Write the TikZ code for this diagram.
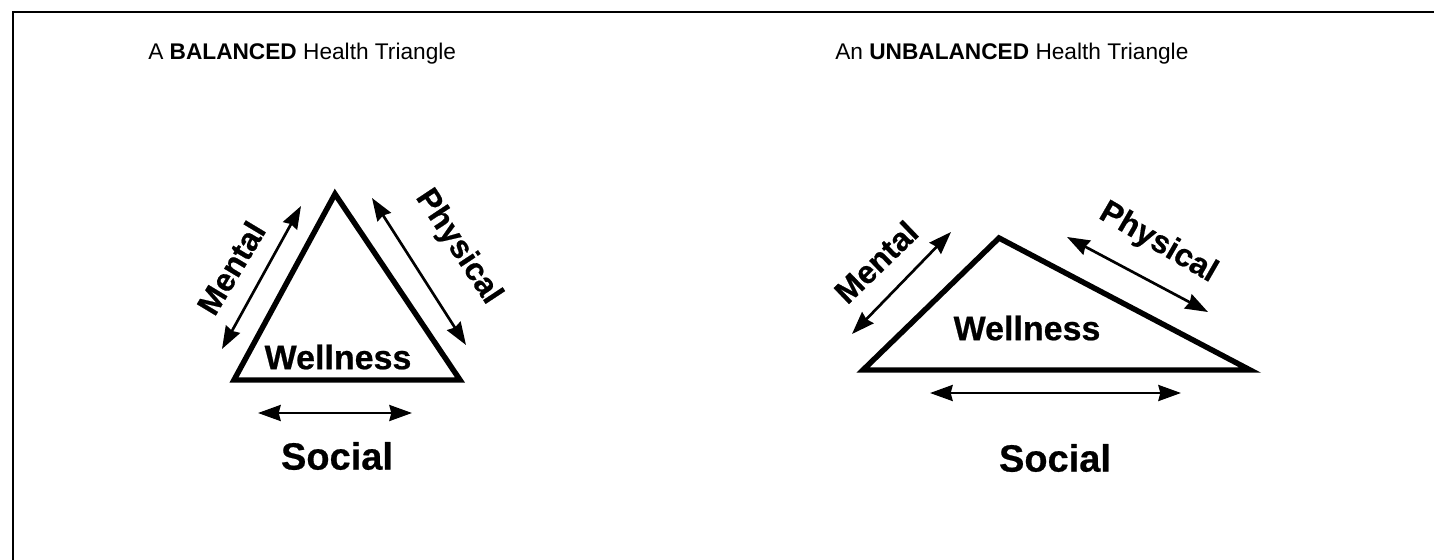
\documentclass[tikz,border=0pt]{standalone}
\usepackage{fontspec}
\setmainfont{Liberation Sans}
\newfontfamily\heavy[FakeBold=0.6]{Liberation Sans Bold}
\usetikzlibrary{arrows.meta}
\begin{document}
\begin{tikzpicture}[x=0.75pt,y=-0.75pt,
  tri/.style={line width=4.1pt, line join=miter},
  tip/.style={Stealth[length=17pt,width=12pt,inset=1.5pt]},
  dbl/.style={line width=2pt, {Stealth[length=17pt,width=12pt,inset=1.5pt]}-{Stealth[length=17pt,width=12pt,inset=1.5pt]}},
  ttl/.style={font=\fontsize{17}{20}\selectfont, inner sep=0pt, anchor=base west},
  lbl/.style={font=\fontsize{24}{28}\heavy, inner sep=0pt},
  wel/.style={font=\fontsize{25.5}{28}\heavy, inner sep=0pt},
  soc/.style={font=\fontsize{28.5}{30}\heavy, inner sep=0pt}]
\useasboundingbox (0,0) rectangle (1434,560);
\fill[white] (0,0) rectangle (1434,560);
% frame
\coordinate (fb) at (13,560);
\coordinate (fc) at (13,12);
\coordinate (fr) at (1434,12);
\draw[line width=1.6pt] (fb) -- (fc) -- (fr);

% ---------- left: balanced ----------
\node[ttl] (t1) at (148,60) {A \textbf{BALANCED} Health Triangle};
\coordinate (A1) at (335,194);
\coordinate (B1) at (234,380);
\coordinate (C1) at (460,380);
\draw[tri] (A1) -- (B1) -- (C1) -- cycle;
\coordinate (m1a) at (301,206);
\coordinate (m1b) at (222,349);
\draw[dbl] (m1a) -- (m1b);
\coordinate (p1a) at (372,198);
\coordinate (p1b) at (466,345);
\draw[dbl] (p1a) -- (p1b);
\coordinate (s1a) at (258,413);
\coordinate (s1b) at (412,413);
\draw[dbl] (s1a) -- (s1b);
\node[lbl, rotate=59] (mental1) at (231,268) {Mental};
\node[lbl, rotate=-56.5] (phys1) at (458,247) {Physical};
\node[wel] (well1) at (338,357) {Wellness};
\node[soc] (soc1) at (337,456) {Social};

% ---------- right: unbalanced ----------
\node[ttl] (t2) at (835,60) {An \textbf{UNBALANCED} Health Triangle};
\coordinate (A2) at (999,238);
\coordinate (B2) at (863,370);
\coordinate (C2) at (1250,370);
\draw[tri] (A2) -- (B2) -- (C2) -- cycle;
\coordinate (m2a) at (951,232);
\coordinate (m2b) at (852,334);
\draw[dbl] (m2a) -- (m2b);
\coordinate (p2a) at (1067,237);
\coordinate (p2b) at (1208,312);
\draw[dbl] (p2a) -- (p2b);
\coordinate (s2a) at (930,393);
\coordinate (s2b) at (1181,393);
\draw[dbl] (s2a) -- (s2b);
\node[lbl, rotate=44] (mental2) at (876,262) {Mental};
\node[lbl, rotate=-30] (phys2) at (1158,243) {Physical};
\node[wel] (well2) at (1027,328) {Wellness};
\node[soc] (soc2) at (1055,458) {Social};
\end{tikzpicture}
\end{document}
